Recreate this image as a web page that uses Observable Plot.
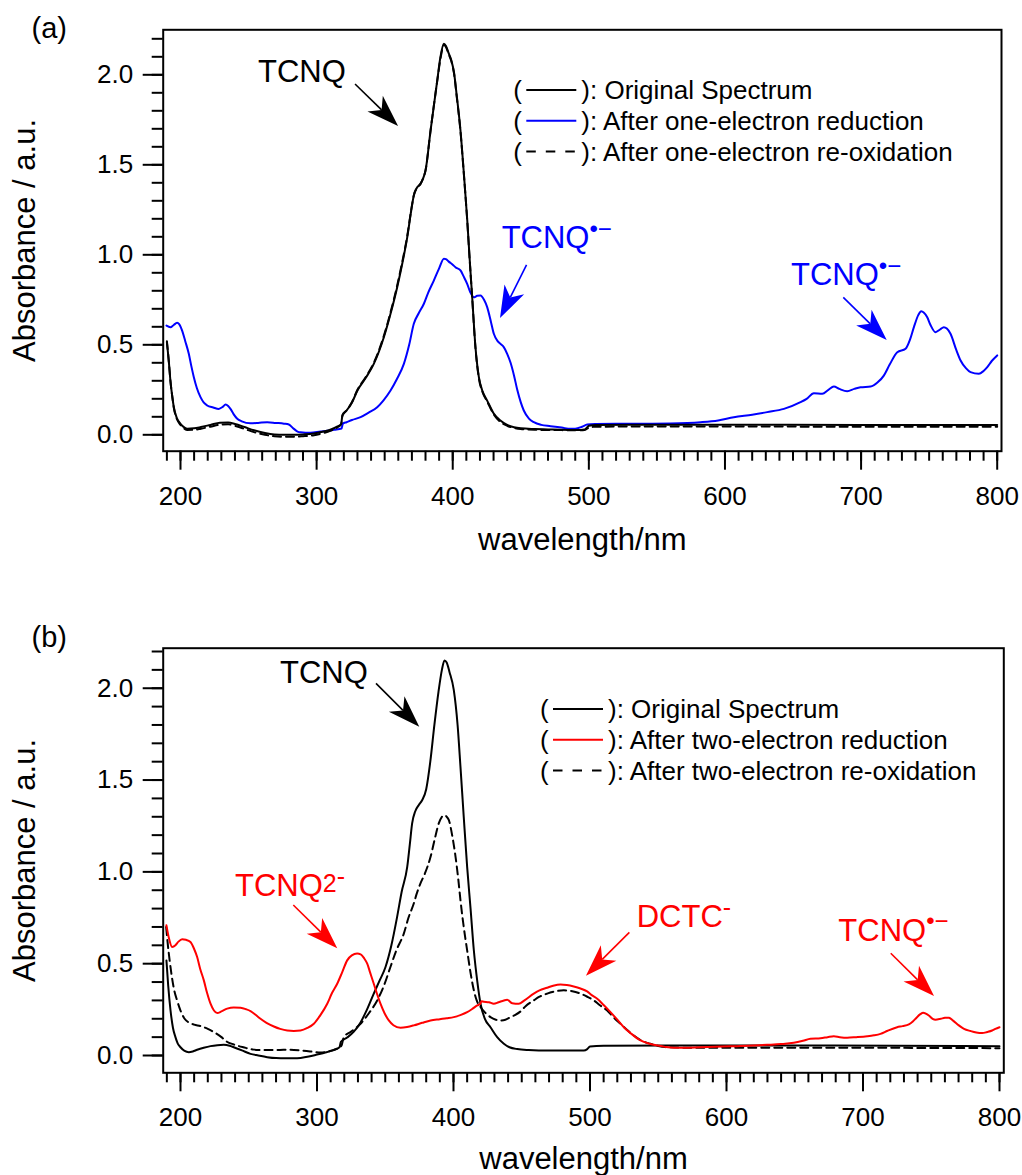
<!DOCTYPE html>
<html>
<head>
<meta charset="utf-8">
<script src="https://cdn.jsdelivr.net/npm/d3@7"></script>
<script src="https://cdn.jsdelivr.net/npm/@observablehq/plot@0.6"></script>
<style>
  html, body { margin: 0; padding: 0; background: white; overflow: hidden; }
  svg { display: block; }
</style>
</head>
<body>
<div id="chart"></div>
<script>
const FONT = "'Liberation Sans', Arial, Helvetica, sans-serif";

// ---------- ticks ----------
const xMajorTicks = [200, 300, 400, 500, 600, 700, 800];
const xMinorTicks = [190, 200, 210, 220, 230, 240, 250, 260, 270, 280, 290, 300, 310, 320, 330, 340, 350, 360, 370, 380, 390, 400,
  410, 420, 430, 440, 450, 460, 470, 480, 490, 500, 510, 520, 530, 540, 550, 560, 570, 580, 590, 600,
  610, 620, 630, 640, 650, 660, 670, 680, 690, 700, 710, 720, 730, 740, 750, 760, 770, 780, 790, 800];
const yMajorTicks = [0, 0.5, 1.0, 1.5, 2.0];
const yMinorTicks = [0, 0.1, 0.2, 0.3, 0.4, 0.5, 0.6, 0.7, 0.8, 0.9, 1.0, 1.1, 1.2, 1.3, 1.4, 1.5, 1.6, 1.7, 1.8, 1.9, 2.0, 2.1, 2.2];

// ---------- panel (a) data: [wavelength nm, absorbance] ----------
const aOriginal = [[190,0.514],[191.5,0.40],[192.6,0.30],[194,0.21],[195.1,0.153],[197.5,0.09],[200,0.061],[203,0.04],[205,0.034],[210,0.036],[215,0.043],[222,0.055],[229,0.067],[235,0.068],[240,0.060],[247,0.043],[254,0.025],[262,0.01],[269,0.002],[276,0.0],[283,0.0],[290,0.002],[298,0.007],[305,0.018],[310,0.028],[315,0.045],[318,0.06],[319,0.11],[322,0.135],[326,0.18],[330,0.246],[336,0.315],[342,0.394],[349.4,0.542],[354.3,0.672],[359.2,0.82],[362.9,0.95],[366.6,1.098],[369.5,1.246],[371.4,1.33],[373.5,1.37],[376.3,1.394],[378,1.42],[380,1.468],[383.7,1.69],[388.6,1.968],[391,2.1],[393.5,2.172],[395,2.16],[397,2.12],[399,2.08],[401,2.01],[403,1.88],[405.7,1.69],[408,1.47],[410.6,1.2],[412.5,0.97],[414.3,0.764],[416.7,0.487],[419.2,0.32],[422,0.24],[425.3,0.19],[430,0.12],[435,0.079],[440,0.055],[445,0.042],[450,0.036],[460,0.032],[470,0.03],[480,0.028],[490,0.027],[497,0.03],[500,0.05],[505,0.055],[550,0.056],[600,0.056],[700,0.055],[800,0.055]];
const aOneElectronReduction = [[189.7,0.607],[192.6,0.598],[195,0.61],[197.5,0.622],[199,0.615],[201.2,0.579],[203.5,0.52],[206.1,0.45],[208,0.38],[209.8,0.32],[212,0.26],[214.7,0.209],[217,0.18],[219.6,0.163],[224,0.152],[228.1,0.144],[231,0.155],[233.1,0.168],[235,0.16],[236.7,0.144],[239,0.115],[241.7,0.089],[245,0.075],[251.4,0.064],[257,0.066],[263.7,0.07],[270,0.066],[276,0.062],[279.6,0.057],[283.3,0.033],[286,0.018],[288.2,0.014],[295.5,0.011],[302.9,0.018],[307.8,0.022],[313,0.028],[318.3,0.035],[319.3,0.062],[322,0.07],[326,0.082],[332.3,0.098],[338,0.122],[344.5,0.153],[349,0.19],[354.3,0.246],[359,0.31],[364.1,0.394],[368,0.5],[371.4,0.617],[375,0.675],[378.8,0.728],[382,0.79],[386.1,0.857],[390,0.925],[393.5,0.978],[395,0.976],[397.1,0.962],[400,0.945],[402,0.931],[405.7,0.913],[408,0.88],[410.6,0.839],[413,0.79],[415.5,0.764],[418,0.772],[420.4,0.774],[423,0.75],[425.3,0.709],[428,0.63],[430.2,0.561],[433,0.52],[435.1,0.505],[437.5,0.487],[440,0.45],[442.5,0.40],[445,0.33],[447.4,0.25],[450,0.18],[452.2,0.135],[456,0.09],[459.6,0.07],[465,0.055],[471.9,0.048],[480,0.04],[486.6,0.033],[490,0.034],[495,0.045],[498.8,0.057],[505,0.06],[520,0.062],[533.1,0.061],[560,0.063],[582.1,0.07],[595,0.08],[606.5,0.098],[620,0.112],[631,0.126],[643.3,0.144],[655.5,0.181],[660,0.2],[665.3,0.231],[671.5,0.228],[676,0.25],[680,0.268],[684,0.255],[689.8,0.242],[695,0.255],[699.6,0.264],[707,0.268],[712,0.29],[716.7,0.329],[721,0.39],[726.6,0.459],[732.7,0.478],[736,0.53],[738.8,0.598],[742,0.665],[744.2,0.687],[746,0.68],[748.6,0.653],[751,0.61],[754.7,0.57],[758,0.585],[760.8,0.598],[763,0.59],[765.7,0.561],[770,0.47],[773.1,0.413],[777,0.37],[780.4,0.348],[786.5,0.339],[790,0.355],[792.7,0.376],[796,0.41],[800,0.441]];
const aOneElectronReoxidation = [[190,0.52],[191.5,0.40],[192.6,0.30],[194,0.21],[195.1,0.15],[197.5,0.085],[200,0.055],[203,0.033],[205,0.027],[210,0.028],[215,0.034],[222,0.045],[229,0.056],[235,0.058],[240,0.05],[247,0.033],[254,0.015],[262,0.0],[269,-0.008],[276,-0.011],[283,-0.011],[290,-0.008],[298,-0.002],[305,0.01],[310,0.022],[315,0.04],[318,0.057],[319,0.107],[322,0.135],[326,0.182],[330,0.25],[336,0.32],[342,0.40],[349.4,0.55],[354.3,0.68],[359.2,0.83],[362.9,0.96],[366.6,1.105],[369.5,1.25],[371.4,1.33],[373.5,1.37],[376.3,1.394],[378,1.42],[380,1.468],[383.7,1.69],[388.6,1.965],[391,2.09],[393.5,2.165],[395,2.155],[397,2.115],[399,2.075],[401,2.005],[403,1.875],[405.7,1.685],[408,1.465],[410.6,1.195],[412.5,0.965],[414.3,0.76],[416.7,0.482],[419.2,0.315],[422,0.235],[425.3,0.185],[430,0.115],[435,0.072],[440,0.05],[445,0.038],[450,0.032],[460,0.028],[470,0.027],[480,0.026],[490,0.025],[497,0.027],[500,0.04],[505,0.045],[550,0.046],[600,0.046],[700,0.045],[800,0.045]];

// ---------- panel (b) data ----------
const bOriginal = [[189.7,0.518],[191,0.38],[192.7,0.245],[194.5,0.15],[196.3,0.1],[198,0.065],[200,0.045],[203,0.025],[206.1,0.018],[209,0.022],[212.2,0.031],[217,0.042],[222,0.051],[227,0.056],[231.7,0.058],[236,0.053],[239,0.045],[245,0.028],[251.3,0.009],[257,0.0],[263.5,-0.009],[270,-0.014],[277,-0.015],[283,-0.015],[288,-0.013],[294,-0.006],[300.1,0.005],[306,0.016],[312.3,0.031],[316.5,0.045],[317.5,0.075],[322.1,0.098],[327,0.13],[331.9,0.18],[336,0.24],[341.6,0.337],[346,0.41],[350.2,0.482],[354.5,0.6],[358.7,0.755],[362,0.89],[366.1,1.027],[368,1.15],[369.7,1.264],[372,1.33],[374.6,1.364],[377,1.39],[380,1.45],[383,1.6],[386,1.8],[389,1.98],[391.5,2.1],[393.4,2.151],[395,2.14],[397,2.09],[400.2,1.991],[403,1.8],[405.1,1.573],[407.5,1.3],[410,1.027],[412.5,0.8],[414.9,0.573],[417.5,0.4],[419.8,0.282],[423,0.2],[427.1,0.154],[432,0.1],[436.9,0.064],[441,0.045],[446.7,0.035],[455,0.03],[470,0.027],[483.3,0.027],[495.5,0.027],[498,0.035],[500,0.049],[510,0.053],[556.5,0.055],[678.6,0.055],[800,0.051]];
const bTwoElectronReduction = [[189.7,0.709],[191.5,0.64],[193.9,0.591],[196.3,0.6],[198.5,0.62],[201.2,0.633],[204,0.63],[207.3,0.618],[210,0.58],[212.2,0.536],[214.5,0.47],[217.1,0.409],[219.5,0.34],[222,0.282],[224.5,0.245],[226.9,0.231],[230,0.24],[234.2,0.255],[239,0.262],[244,0.26],[248,0.252],[251.3,0.242],[255,0.222],[258.6,0.2],[263,0.178],[268.4,0.158],[273,0.145],[278.2,0.136],[283,0.134],[287.9,0.136],[293,0.15],[297.7,0.173],[302.5,0.22],[307.5,0.282],[311,0.34],[314.8,0.391],[318.5,0.454],[322.1,0.518],[325.5,0.545],[329.4,0.555],[332,0.551],[334.5,0.53],[336.8,0.5],[339,0.45],[341.6,0.391],[344,0.335],[346.5,0.282],[349.5,0.23],[352.6,0.191],[356,0.165],[361.2,0.151],[366,0.155],[370.9,0.164],[377,0.178],[383.2,0.191],[390,0.198],[395,0.203],[400.2,0.209],[405,0.22],[410,0.236],[414,0.255],[417.4,0.273],[419.5,0.28],[420.5,0.295],[422.2,0.293],[426,0.29],[429.5,0.282],[433,0.29],[436.9,0.3],[439.3,0.304],[443,0.285],[447.8,0.282],[452,0.3],[458.8,0.337],[463,0.355],[468.6,0.369],[473,0.38],[478.4,0.387],[483,0.384],[488.1,0.376],[493,0.365],[497.9,0.349],[501,0.33],[505.3,0.309],[510,0.275],[515,0.236],[520,0.195],[524.8,0.154],[530,0.12],[537,0.082],[543,0.065],[549.2,0.055],[555,0.047],[561.4,0.042],[580.9,0.045],[605.3,0.051],[629.8,0.058],[640,0.062],[649.3,0.069],[656,0.08],[661.5,0.091],[668.9,0.094],[674,0.1],[678.6,0.105],[683,0.1],[688.4,0.097],[695,0.1],[703.1,0.105],[708,0.11],[712.8,0.118],[718,0.135],[725,0.154],[729,0.16],[733.6,0.169],[736.5,0.185],[739.2,0.206],[742,0.225],[744.1,0.233],[746,0.228],[748.2,0.218],[751,0.2],[753.1,0.195],[757,0.2],[760,0.205],[762.9,0.206],[766,0.19],[770.2,0.164],[774,0.145],[778.8,0.133],[783,0.125],[787.3,0.122],[791,0.128],[794.6,0.136],[797,0.145],[800,0.154]];
const bTwoElectronReoxidation = [[189.5,0.70],[190.5,0.62],[192.2,0.509],[195,0.37],[197.5,0.30],[200,0.245],[203,0.20],[206,0.18],[210,0.168],[214.7,0.16],[220,0.145],[225,0.125],[230,0.10],[234,0.075],[239,0.06],[246,0.045],[253.7,0.032],[260,0.03],[270.8,0.03],[280,0.032],[287.9,0.028],[295,0.022],[302.6,0.016],[308,0.022],[314.8,0.037],[318,0.055],[319.6,0.1],[325,0.13],[331.9,0.173],[338,0.23],[344.1,0.3],[349,0.38],[353.8,0.482],[358,0.57],[363.6,0.664],[367,0.75],[370.9,0.828],[373,0.88],[375.8,0.937],[379,0.99],[383.2,1.082],[386,1.17],[389.2,1.264],[391.5,1.3],[393.4,1.309],[395,1.3],[396.6,1.282],[399,1.2],[401.5,1.082],[403.5,0.96],[405.1,0.846],[407.5,0.7],[410,0.573],[412.5,0.45],[414.9,0.355],[417,0.3],[419.8,0.264],[423,0.235],[427.1,0.209],[431,0.195],[434.4,0.191],[438,0.195],[441.8,0.209],[445,0.22],[449.1,0.24],[453,0.27],[458.8,0.3],[463,0.32],[468.6,0.337],[475,0.35],[480.8,0.355],[487,0.35],[493,0.337],[498,0.32],[502.8,0.3],[507,0.275],[512.6,0.245],[517,0.21],[522.3,0.173],[527,0.14],[532.1,0.109],[538,0.08],[544.3,0.064],[550,0.052],[556.5,0.045],[580.9,0.042],[678.6,0.042],[800,0.04]];

// ---------- legends ----------
const aLegend = ["Original Spectrum", "After one-electron reduction", "After one-electron re-oxidation"];
const bLegend = ["Original Spectrum", "After two-electron reduction", "After two-electron re-oxidation"];

// ---------- annotations (data coordinates) ----------
const aLabels = [
  {x: 257.3, y: 1.957, text: "TCNQ", sup: "", color: "black"},
  {x: 436.3, y: 1.033, text: "TCNQ", sup: "•−", color: "blue"},
  {x: 648.9, y: 0.829, text: "TCNQ", sup: "•−", color: "blue"}
];
const aArrows = [
  {x1: 328.6, y1: 1.946, x2: 360.2, y2: 1.713, color: "black"},
  {x1: 454.6, y1: 0.941, x2: 435.1, y2: 0.646, color: "blue"},
  {x1: 687.3, y1: 0.761, x2: 719.2, y2: 0.524, color: "blue"}
];
const bLabels = [
  {x: 273.3, y: 2.027, text: "TCNQ", sup: "", color: "black"},
  {x: 240.3, y: 0.866, text: "TCNQ", sup: "2-", color: "red"},
  {x: 534.6, y: 0.699, text: "DCTC", sup: "-", color: "red"},
  {x: 682.3, y: 0.622, text: "TCNQ", sup: "•−", color: "red"}
];
const bArrows = [
  {x1: 343.6, y1: 2.024, x2: 375.3, y2: 1.788, color: "black"},
  {x1: 283.0, y1: 0.817, x2: 315.2, y2: 0.581, color: "red"},
  {x1: 529.2, y1: 0.668, x2: 497.4, y2: 0.432, color: "red"},
  {x1: 720.7, y1: 0.554, x2: 752.4, y2: 0.321, color: "red"}
];

// ---------- helper marks ----------
function arrowMark(list) {
  return (index, scales) => {
    const g = d3.create("svg:g");
    const HL = 32, HW = 11, NOTCH = 9;
    for (const a of list) {
      const x1 = scales.x(a.x1), y1 = scales.y(a.y1), x2 = scales.x(a.x2), y2 = scales.y(a.y2);
      const L = Math.hypot(x2 - x1, y2 - y1), ux = (x2 - x1) / L, uy = (y2 - y1) / L, nx = -uy, ny = ux;
      const bx = x2 - ux * HL, by = y2 - uy * HL;
      const mx = x2 - ux * (HL - NOTCH), my = y2 - uy * (HL - NOTCH);
      g.append("line").attr("x1", x1).attr("y1", y1).attr("x2", mx).attr("y2", my)
        .attr("stroke", a.color).attr("stroke-width", 1.6);
      g.append("path")
        .attr("d", `M${x2},${y2}L${bx + nx * HW},${by + ny * HW}L${mx},${my}L${bx - nx * HW},${by - ny * HW}Z`)
        .attr("fill", a.color);
    }
    return g.node();
  };
}

function labelMark(list) {
  return (index, scales) => {
    const g = d3.create("svg:g").attr("font-family", FONT).attr("text-anchor", "start");
    for (const t of list) {
      const el = g.append("text").attr("x", scales.x(t.x)).attr("y", scales.y(t.y))
        .attr("fill", t.color).attr("font-size", 31).attr("text-anchor", "start");
      el.append("tspan").text(t.text);
      if (t.sup === "•−") {
        el.append("tspan").attr("font-size", 24).attr("dy", -11.5).text(t.sup);
      } else if (t.sup === "2-") {
        el.append("tspan").attr("font-size", 25).attr("dy", -4).text("2");
        el.append("tspan").attr("font-size", 25).attr("dy", -7).text("-");
      } else if (t.sup === "-") {
        el.append("tspan").attr("font-size", 25).attr("dy", -11).text("-");
      }
    }
    return g.node();
  };
}

function legendMark(labels, styles, offX, offY) {
  return (index, scales, values, dims) => {
    const g = d3.create("svg:g").attr("font-family", FONT).attr("font-size", 26)
      .attr("fill", "black").attr("text-anchor", "start");
    labels.forEach((label, i) => {
      const x0 = dims.marginLeft + offX, yb = dims.marginTop + offY + i * 30.7;
      g.append("text").attr("x", x0).attr("y", yb).attr("text-anchor", "start").text("(");
      g.append("line").attr("x1", x0 + 13).attr("x2", x0 + 63).attr("y1", yb - 9.3).attr("y2", yb - 9.3)
        .attr("stroke", styles[i].color).attr("stroke-width", 2)
        .attr("stroke-dasharray", styles[i].legendDash || null);
      g.append("text").attr("x", x0 + 68).attr("y", yb).attr("text-anchor", "start").text("): " + label);
    });
    return g.node();
  };
}

function panel(cfg) {
  return Plot.plot({
    width: 1022,
    height: cfg.height,
    marginTop: cfg.marginTop,
    marginBottom: cfg.marginBottom,
    marginLeft: cfg.marginLeft,
    marginRight: cfg.marginRight,
    style: {fontFamily: FONT, fontSize: "26px", background: "white", color: "black", overflow: "visible"},
    x: {domain: cfg.xDomain, label: null},
    y: {domain: cfg.yDomain, label: null},
    marks: [
      ...cfg.series.map(s => Plot.line(s.data, {
        x: d => d[0], y: d => d[1], stroke: s.color, strokeWidth: 2,
        strokeDasharray: s.dash, curve: "monotone-x"
      })),
      Plot.frame({stroke: "black", strokeWidth: 2}),
      Plot.axisX({anchor: "bottom", ticks: xMinorTicks, tickSize: 10, tickFormat: () => "", strokeWidth: 2, label: null}),
      Plot.axisX({anchor: "bottom", ticks: xMajorTicks, tickSize: 19, tickPadding: 16, tickFormat: d => String(d), strokeWidth: 2, label: null}),
      Plot.axisY({anchor: "left", ticks: yMinorTicks, tickSize: 11, tickFormat: () => "", strokeWidth: 2, label: null}),
      Plot.axisY({anchor: "left", ticks: yMajorTicks, tickSize: 20, tickPadding: 10, tickFormat: d3.format(".1f"), strokeWidth: 2, label: null}),
      Plot.text(["wavelength/nm"], {frameAnchor: "bottom", dy: cfg.titleDy, lineAnchor: "bottom", fontSize: 31, text: d => d}),
      Plot.text(["Absorbance / a.u."], {frameAnchor: "left", rotate: -90, dx: -128, lineAnchor: "bottom", textAnchor: "middle", fontSize: 31, text: d => d}),
      Plot.text([cfg.tag], {frameAnchor: "top-left", dx: 31 - cfg.marginLeft, dy: cfg.tagDy, lineAnchor: "bottom", textAnchor: "start", fontSize: 29, text: d => d}),
      legendMark(cfg.legend, cfg.legendStyles, cfg.legendOff[0], cfg.legendOff[1]),
      arrowMark(cfg.arrows),
      labelMark(cfg.labels)
    ]
  });
}

const root = document.getElementById("chart");

root.appendChild(panel({
  height: 600, marginTop: 29.3, marginBottom: 149.3, marginLeft: 162.7, marginRight: 21,
  xDomain: [187.29, 803.16], yDomain: [-0.0911, 2.25],
  series: [
    {data: aOneElectronReduction, color: "#0000ff"},
    {data: aOriginal, color: "black"},
    {data: aOneElectronReoxidation, color: "black", dash: "8,5"}
  ],
  legend: aLegend,
  legendStyles: [{color: "black"}, {color: "#0000ff"}, {color: "black", legendDash: "9.5,10"}],
  legendOff: [350.6, 70],
  tag: "(a)", tagDy: 8.2, titleDy: 99,
  arrows: aArrows, labels: aLabels
}));

root.appendChild(panel({
  height: 575, marginTop: 47.7, marginBottom: 102.7, marginLeft: 162.7, marginRight: 18.7,
  xDomain: [187.33, 803.15], yDomain: [-0.0942, 2.218],
  series: [
    {data: bOriginal, color: "black"},
    {data: bTwoElectronReoxidation, color: "black", dash: "8,5"},
    {data: bTwoElectronReduction, color: "#ff0000"}
  ],
  legend: bLegend,
  legendStyles: [{color: "black"}, {color: "#ff0000"}, {color: "black", legendDash: "9.5,10"}],
  legendOff: [377.3, 70.6],
  tag: "(b)", tagDy: -1.7, titleDy: 96,
  arrows: bArrows, labels: bLabels
}));
</script>
</body>
</html>
